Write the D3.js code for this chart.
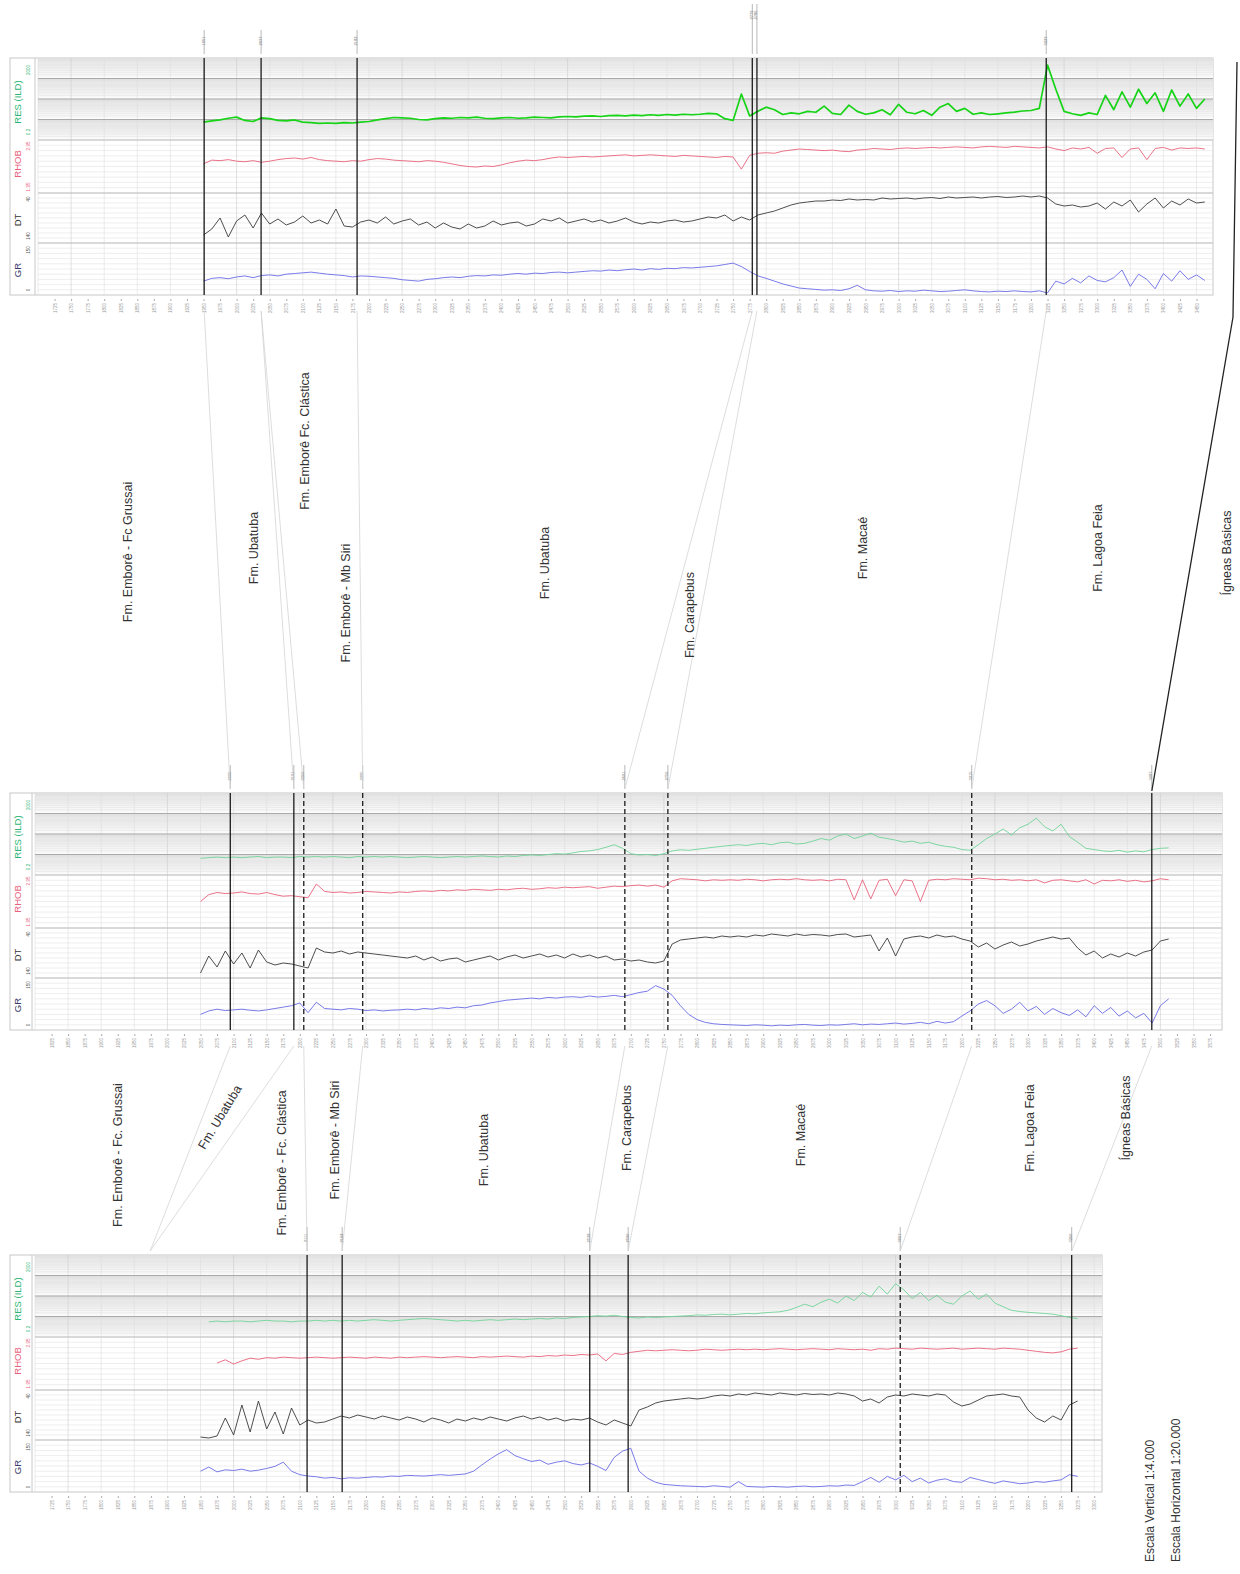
<!DOCTYPE html>
<html>
<head>
<meta charset="utf-8">
<script src="https://cdn.jsdelivr.net/npm/d3@7"></script>
<style>
body { margin: 0; background: #fff; font-family: "Liberation Sans", Arial, sans-serif; }
</style>
</head>
<body>
<svg id="chart" width="1240" height="1574"></svg>
<script>
// sampling of every log curve (m)
const STEP = 12.5;

// ---- well 1 (top panel)
const W1_START = 1950;
const W1_TOPS = [1951, 2037, 2182, 2779, 2786, 3223];
const W1_GR = [40,48,50,47,52, 55,50,56,58,55, 60,62,64,66,63, 60,58,56,52,55, 54,52,50,48,44, 42,40,45,47,50,
	52,50,54,56,55, 58,57,60,62,60, 63,62,65,66,64, 66,68,70,69,72, 70,73,75,72,76, 74,77,76,79,78,
	80,82,84,88,92, 82,68,55,48,40, 32,26,20,18,16, 14,15,13,18,28, 15,12,11,13,10, 12,11,14,12,10,
	11,13,15,12,10, 9,11,10,12,10, 9,12,6,40,32, 48,35,55,42,38, 50,72,25,60,45, 18,62,40,70,45, 58,42];
const W1_DT = [124,112,90,128,96, 84,110,80,102,92, 104,98,86,100,94, 102,72,106,108,98, 94,100,88,102,96, 92,104,98,110,100,
	108,112,102,110,106, 96,104,100,98,106, 102,92,96,90,100, 96,92,98,94,100, 96,90,98,102,98, 100,96,94,98,96,
	92,88,90,84,96, 88,94,84,80,76, 70,64,60,58,56, 56,54,55,52,54, 53,54,50,52,51, 50,52,50,49,51,
	48,50,49,48,50, 48,47,49,48,46, 48,46,50,62,66, 64,68,66,60,72, 58,66,54,78,62, 50,70,56,64,52, 60,58];
const W1_RHOB = [2.50,2.57,2.56,2.58,2.55, 2.54,2.56,2.53,2.55,2.58, 2.60,2.61,2.59,2.62,2.58, 2.56,2.55,2.54,2.56,2.55,
	2.58,2.60,2.59,2.57,2.56, 2.55,2.54,2.56,2.55,2.53, 2.50,2.47,2.45,2.44,2.46, 2.45,2.48,2.52,2.55,2.57,
	2.56,2.58,2.61,2.63,2.62, 2.63,2.64,2.63,2.64,2.65, 2.66,2.67,2.65,2.66,2.67, 2.66,2.65,2.64,2.66,2.65,
	2.64,2.63,2.62,2.64,2.63, 2.40,2.66,2.70,2.71,2.70, 2.74,2.76,2.78,2.77,2.76, 2.75,2.76,2.74,2.73,2.76,
	2.77,2.79,2.78,2.77,2.79, 2.80,2.79,2.80,2.81,2.80, 2.81,2.82,2.81,2.80,2.82, 2.83,2.82,2.81,2.83,2.82,
	2.81,2.80,2.82,2.78,2.75, 2.80,2.78,2.81,2.70,2.79, 2.80,2.62,2.78,2.80,2.58, 2.79,2.81,2.76,2.80,2.79, 2.80,2.78];
const W1_RES = [1.5,1.7,1.9,2.3,2.6, 1.8,1.6,2.4,2.2,1.8, 1.7,1.9,1.5,1.4,1.3, 1.35,1.3,1.4,1.35,1.5, 1.6,1.9,2.2,2.5,2.4,
	2.3,2.0,1.9,2.2,2.4, 2.3,2.5,2.4,2.6,2.3, 2.2,2.4,2.5,2.3,2.4, 2.6,2.5,2.4,2.7,2.8, 2.7,2.9,3.0,2.8,3.1,
	3.2,3.0,3.3,3.1,3.4, 3.2,3.5,3.3,3.6,3.4, 3.6,4.0,3.8,2.2,1.8, 35,3.0,5,8,6, 3.5,4.2,3.8,5,4.5,
	9,4,3.5,10,5, 3.6,4.2,6,3.4,11, 4.5,3.8,5.5,3.2,8, 12,5,7,3.6,4.2, 3.5,3.8,4.2,4.6,5.2,
	5.5,7,900,60,5, 3.8,3.2,4.2,3.5,30, 6,45,8,60,12, 40,5,55,9,35, 7,20];

// ---- well 2 (middle panel)
const W2_START = 2050;
const W2_TOPS = [2095, 2191, 2206, 2295, 2691, 2756, 3215, 3487];
const W2_GR = [45,55,60,56,58, 60,57,55,58,62, 66,70,78,50,80, 62,60,58,62,60, 56,58,55,57,58, 60,58,62,60,64,
	62,66,64,70,72, 78,82,86,88,90, 92,90,94,92,95, 96,94,98,95,97, 100,96,102,108,112, 128,118,100,70,45,
	30,22,18,16,15, 14,13,15,14,12, 14,13,15,16,14, 13,15,14,16,18, 15,17,16,18,20, 17,19,22,18,25,
	20,24,40,55,75, 85,70,48,60,80, 55,68,45,62,50, 42,58,38,70,48, 65,40,55,35,48, 20,70,90];
const W2_DT = [130,96,118,86,112, 90,120,84,108,114, 110,112,116,120,80, 88,90,86,92,88, 90,92,94,96,98, 100,96,104,98,106,
	102,100,108,104,100, 96,104,98,94,100, 96,92,98,94,100, 92,98,94,100,96, 104,102,106,104,108, 110,106,72,64,62,
	60,58,60,56,58, 56,58,54,56,52, 54,56,52,55,53, 54,56,53,52,58, 56,54,86,60,96, 62,58,56,60,54,
	58,56,62,66,78, 70,82,74,68,76, 72,66,62,58,62, 60,80,94,86,100, 92,98,90,96,88, 84,66,62];
const W2_RHOB = [2.45,2.58,2.62,2.60,2.61, 2.63,2.60,2.59,2.62,2.58, 2.55,2.56,2.54,2.52,2.78, 2.64,2.62,2.63,2.61,2.62,
	2.64,2.63,2.62,2.61,2.63, 2.62,2.64,2.65,2.64,2.66, 2.65,2.67,2.66,2.68,2.67, 2.66,2.68,2.67,2.69,2.70,
	2.68,2.69,2.71,2.70,2.72, 2.71,2.72,2.73,2.70,2.72, 2.74,2.73,2.75,2.76,2.74, 2.76,2.72,2.84,2.88,2.87,
	2.86,2.84,2.86,2.85,2.86, 2.85,2.87,2.86,2.84,2.86, 2.87,2.86,2.88,2.86,2.85, 2.86,2.84,2.87,2.86,2.48,
	2.86,2.50,2.85,2.87,2.56, 2.86,2.84,2.45,2.85,2.87, 2.86,2.88,2.87,2.86,2.89, 2.88,2.86,2.87,2.85,2.86,
	2.84,2.86,2.80,2.85,2.86, 2.84,2.82,2.86,2.78,2.85, 2.84,2.86,2.83,2.85,2.82, 2.84,2.88,2.86];
const W2_RES = [1.3,1.4,1.5,1.4,1.5, 1.4,1.5,1.6,1.4,1.5, 1.5,1.4,1.6,1.5,1.6, 1.5,1.6,1.5,1.4,1.6, 1.5,1.6,1.5,1.6,1.5,
	1.4,1.5,1.6,1.5,1.4, 1.5,1.6,1.5,1.6,1.7, 1.6,1.5,1.7,1.6,1.8, 1.9,1.8,2.0,2.2,2.1, 2.4,2.8,3.0,3.5,4.5,
	6,4,2.2,1.9,2.0, 1.8,2.2,3.0,3.4,3.2, 3.6,4.0,4.5,5,5.5, 6,5.5,6.5,7,6, 7.5,8,6.5,7,9,
	12,10,16,20,12, 16,22,14,12,10, 8,9,7,8,6, 5,4.5,3.5,3.2,6, 12,20,35,18,40,
	60,120,45,28,60, 15,8,4,3.5,3.0, 2.8,3.2,2.6,3.0,2.7, 3.5,4.0,4.2];

// ---- well 3 (bottom panel)
const W3_START = 1950;
const W3_TOPS = [2111, 2164, 2538, 2596, 3007, 3266];
const W3_GR = [60,72,58,64,62, 66,60,63,68,74, 86,60,50,46,44, 40,42,38,41,40, 42,44,43,46,45, 48,47,46,48,50,
	48,50,52,60,78, 95,110,122,105,96, 88,92,80,86,90, 82,78,84,74,62, 100,118,126,60,40, 28,22,20,18,17,
	16,15,18,16,14, 30,16,15,14,16, 15,14,16,17,15, 16,18,17,20,19, 30,42,28,45,35, 48,30,40,26,34,
	38,30,28,42,36, 30,25,32,28,24, 26,30,28,32,35, 50,45];
const W3_DT = [134,136,132,96,130, 70,124,62,118,84, 128,76,110,100,106, 104,98,92,96,90, 94,98,92,96,100, 94,98,104,96,100,
	106,98,102,96,100, 94,98,102,96,92, 98,94,100,96,102, 98,100,96,104,110, 100,106,112,80,74, 66,62,60,58,56,
	58,56,52,50,52, 48,50,46,48,50, 46,48,50,47,49, 48,50,46,48,52, 62,58,66,54,50, 52,48,50,52,48,
	50,64,72,68,60, 52,50,48,52,54, 80,96,104,92,100, 70,62];
const W3_RHOB = [null,null,2.46,2.52,2.44, 2.50,2.55,2.53,2.56,2.55, 2.57,2.56,2.55,2.56,2.57, 2.56,2.55,2.56,2.57,2.56,
	2.55,2.57,2.56,2.55,2.57, 2.56,2.57,2.58,2.57,2.56, 2.57,2.58,2.57,2.56,2.58, 2.57,2.58,2.59,2.58,2.57,
	2.59,2.58,2.60,2.59,2.61, 2.60,2.62,2.61,2.63,2.50, 2.64,2.62,2.66,2.68,2.70, 2.69,2.70,2.71,2.70,2.69,
	2.70,2.72,2.71,2.70,2.71, 2.72,2.71,2.72,2.71,2.72, 2.73,2.72,2.71,2.72,2.73, 2.72,2.71,2.73,2.72,2.71,
	2.72,2.70,2.73,2.72,2.74, 2.73,2.72,2.74,2.73,2.72, 2.73,2.74,2.72,2.73,2.74, 2.73,2.72,2.74,2.73,2.72,
	2.70,2.68,2.66,2.65,2.67, 2.72,2.74];
const W3_RES = [null,1.1,1.2,1.1,1.2, 1.2,1.1,1.2,1.3,1.2, 1.2,1.1,1.2,1.2,1.3, 1.2,1.3,1.2,1.3,1.2, 1.3,1.4,1.3,1.2,1.3,
	1.4,1.5,1.6,1.5,1.4, 1.3,1.2,1.3,1.2,1.3, 1.4,1.3,1.4,1.5,1.4, 1.5,1.6,1.5,1.7,1.6, 1.8,1.9,2.0,2.2,2.1,
	2.3,2.0,1.8,1.7,1.9, 1.8,1.9,2.0,2.1,2.2, 2.4,2.3,2.5,2.6,2.4, 2.6,2.8,2.7,3.0,3.2, 3.4,4.0,5.5,8,6,
	10,14,9,20,12, 30,18,60,25,80, 40,15,30,12,22, 10,8,20,35,14, 25,9,6,4,3.5, 3.2,3.0,2.8,2.6,2.2, 1.8,1.6];

// formation names between the panels
const UPPER_FORMATIONS = ['Fm. Emborê - Fc Grussai', 'Fm. Ubatuba', 'Fm. Emborê Fc. Clástica', 'Fm. Emborê - Mb Siri',
	'Fm. Ubatuba', 'Fm. Carapebus', 'Fm. Macaé', 'Fm. Lagoa Feia', 'Ígneas Básicas'];
const LOWER_FORMATIONS = ['Fm. Emborê - Fc. Grussai', 'Fm. Ubatuba', 'Fm. Emborê - Fc. Clástica', 'Fm. Emborê - Mb Siri',
	'Fm. Ubatuba', 'Fm. Carapebus', 'Fm. Macaé', 'Fm. Lagoa Feia', 'Ígneas Básicas'];
const SCALE_NOTES = ['Escala Vertical 1:4.000', 'Escala Horizontal 1:20.000'];

// ---------------- layout
const PX_PER_M = 0.662;
const H = 237;
const SCALES = {
	res: d3.scaleLog().domain([0.2, 2000]).range([82, 0]),
	rhob: d3.scaleLinear().domain([1.95, 2.95]).range([135, 82]),
	dt: d3.scaleLinear().domain([140, 40]).range([185, 135]),
	gr: d3.scaleLinear().domain([0, 150]).range([237, 185])
};
const CURVE_STYLE = {
	gr: { color: '#6b6be6', width: 0.9 },
	dt: { color: '#3a3a3a', width: 0.9 },
	rhob: { color: '#e8627c', width: 0.9 }
};

const wells = [
	{ top: 58, x0: 38, x1: 1213, d0: 1700, start: W1_START, tops: W1_TOPS,
		dashed: [0, 0, 0, 0, 0, 0], lift: [0, 0, 0, 26, 26, 0],
		gr: W1_GR, dt: W1_DT, rhob: W1_RHOB, res: W1_RES, resColor: '#17d417', resWidth: 1.7 },
	{ top: 793, x0: 35, x1: 1222, d0: 1800, start: W2_START, tops: W2_TOPS,
		dashed: [0, 0, 1, 1, 1, 1, 1, 0], lift: [0, 0, 0, 0, 0, 0, 0, 0],
		gr: W2_GR, dt: W2_DT, rhob: W2_RHOB, res: W2_RES, resColor: '#6fd497', resWidth: 0.9 },
	{ top: 1255, x0: 35, x1: 1102, d0: 1700, start: W3_START, tops: W3_TOPS,
		dashed: [0, 0, 0, 0, 1, 0], lift: [0, 0, 0, 0, 0, 0],
		gr: W3_GR, dt: W3_DT, rhob: W3_RHOB, res: W3_RES, resColor: '#6fd497', resWidth: 0.9 }
];

const svg = d3.select('#chart');
const defs = svg.append('defs');
const grad = defs.append('linearGradient').attr('id', 'band')
	.attr('x1', 0).attr('y1', 0).attr('x2', 0).attr('y2', 1);
grad.append('stop').attr('offset', '0%').attr('stop-color', '#dedede');
grad.append('stop').attr('offset', '40%').attr('stop-color', '#f1f1f1');
grad.append('stop').attr('offset', '100%').attr('stop-color', '#fbfbfb');

function rotText(g, x, y, txt, size, color, angle = -90, anchor = 'middle') {
	return g.append('text')
		.attr('transform', `translate(${x},${y}) rotate(${angle})`)
		.attr('text-anchor', anchor)
		.attr('dy', '0.35em')
		.attr('font-size', size)
		.attr('fill', color)
		.text(txt);
}

function drawWell(w) {
	const d1 = w.d0 + (w.x1 - w.x0) / PX_PER_M;
	const xs = d3.scaleLinear().domain([w.d0, d1]).range([w.x0, w.x1]);
	w.xs = xs;
	const g = svg.append('g').attr('transform', `translate(0,${w.top})`);

	g.append('rect').attr('x', 10).attr('y', 0).attr('width', w.x1 - 10).attr('height', H)
		.attr('fill', '#fff').attr('stroke', '#c8c8c8');

	// resistivity decade bands
	const res = SCALES.res;
	[[0.2, 2], [2, 20], [20, 200], [200, 2000]].forEach(([a, b]) => {
		g.append('rect').attr('x', w.x0).attr('width', w.x1 - w.x0)
			.attr('y', res(b)).attr('height', res(a) - res(b)).attr('fill', 'url(#band)');
	});
	const hl = g.append('g').attr('stroke', '#e3e3e3').attr('stroke-width', 0.6);
	res.ticks().forEach(v => hl.append('line').attr('x1', w.x0).attr('x2', w.x1).attr('y1', res(v)).attr('y2', res(v)));
	d3.range(1.95, 2.96, 0.1).forEach(v => hl.append('line').attr('x1', w.x0).attr('x2', w.x1)
		.attr('y1', SCALES.rhob(v)).attr('y2', SCALES.rhob(v)));
	d3.range(40, 141, 10).forEach(v => hl.append('line').attr('x1', w.x0).attr('x2', w.x1)
		.attr('y1', SCALES.dt(v)).attr('y2', SCALES.dt(v)));
	d3.range(0, 151, 15).forEach(v => hl.append('line').attr('x1', w.x0).attr('x2', w.x1)
		.attr('y1', SCALES.gr(v)).attr('y2', SCALES.gr(v)));

	// vertical depth grid
	const vg = g.append('g').attr('stroke', '#dedede').attr('stroke-width', 0.6);
	d3.range(Math.ceil(w.d0 / 50) * 50, d1, 50).forEach(d => {
		vg.append('line').attr('x1', xs(d)).attr('x2', xs(d)).attr('y1', 0).attr('y2', H)
			.attr('stroke', d % 250 === 0 ? '#cbcbcb' : null);
	});

	// decade and track lines
	[2, 20, 200].forEach(v => g.append('line').attr('x1', w.x0).attr('x2', w.x1)
		.attr('y1', res(v)).attr('y2', res(v)).attr('stroke', '#ababab').attr('stroke-width', 1));
	[res(0.2), SCALES.dt(40), SCALES.gr(150)].forEach(y => g.append('line')
		.attr('x1', w.x0).attr('x2', w.x1).attr('y1', y).attr('y2', y)
		.attr('stroke', '#b8b8b8').attr('stroke-width', 0.8));
	g.append('line').attr('x1', w.x0 - 3).attr('x2', w.x0 - 3).attr('y1', 0).attr('y2', H)
		.attr('stroke', '#c8c8c8');

	// curve labels column
	rotText(g, 18, 44, 'RES (ILD)', 9.5, '#2bb673');
	rotText(g, 28, 12, '2000', 4.5, '#2bb673');
	rotText(g, 28, 74, '0.2', 4.5, '#2bb673');
	rotText(g, 18, 106, 'RHOB', 9.5, '#e8627c');
	rotText(g, 28, 88, '2.95', 4.5, '#e8627c');
	rotText(g, 28, 129, '1.95', 4.5, '#e8627c');
	rotText(g, 18, 162, 'DT', 9.5, '#333');
	rotText(g, 28, 141, '40', 4.5, '#555');
	rotText(g, 28, 178, '140', 4.5, '#555');
	rotText(g, 18, 212, 'GR', 9.5, '#3a3a6a');
	rotText(g, 28, 192, '150', 4.5, '#555');
	rotText(g, 28, 232, '0', 4.5, '#555');

	// curves
	const depth = i => w.start + i * STEP;
	['gr', 'dt', 'rhob', 'res'].forEach(k => {
		const line = d3.line()
			.defined(v => v != null)
			.x((v, i) => xs(depth(i)))
			.y(v => SCALES[k](v));
		const st = k === 'res' ? { color: w.resColor, width: w.resWidth } : CURVE_STYLE[k];
		g.append('path').datum(w[k]).attr('d', line)
			.attr('fill', 'none').attr('stroke', st.color).attr('stroke-width', st.width)
			.attr('stroke-linejoin', 'round');
	});

	// formation tops
	w.tops.forEach((d, i) => {
		g.append('line').attr('x1', xs(d)).attr('x2', xs(d)).attr('y1', 0).attr('y2', H)
			.attr('stroke', '#1b1b1b').attr('stroke-width', 1.3)
			.attr('stroke-dasharray', w.dashed[i] ? '5,3' : null);
		const lift = w.lift[i];
		g.append('line').attr('x1', xs(d)).attr('x2', xs(d)).attr('y1', -28 - lift).attr('y2', -4)
			.attr('stroke', '#888').attr('stroke-width', 0.6);
		rotText(g, xs(d) - 1, -17 - lift, String(d), 4, '#777');
	});

	// depth axis
	const axis = d3.axisBottom(xs)
		.tickValues(d3.range(Math.ceil(w.d0 / 25) * 25 + 25, d1, 25))
		.tickSize(2)
		.tickFormat(d3.format('d'));
	const ga = g.append('g').attr('transform', `translate(0,${H + 4})`).call(axis);
	ga.select('.domain').remove();
	ga.selectAll('line').attr('stroke', '#aaa');
	ga.selectAll('text')
		.attr('font-size', 4.5).attr('fill', '#999')
		.attr('transform', 'rotate(-90)')
		.attr('x', -4).attr('y', 0).attr('dy', '0.35em')
		.attr('text-anchor', 'end');
}

wells.forEach(drawWell);

// ---- correlation lines
const [w1, w2, w3] = wells;
const corr = svg.append('g').attr('stroke', '#d4d4d4').attr('stroke-width', 0.8).attr('fill', 'none');
const LINKS_12 = [[0, 0], [1, 1], [1, 2], [2, 3], [3, 4], [4, 5], [5, 6]];
LINKS_12.forEach(([a, b]) => corr.append('line')
	.attr('x1', w1.xs(w1.tops[a])).attr('y1', w1.top + H + 16)
	.attr('x2', w2.xs(w2.tops[b])).attr('y2', w2.top - 4));
const LINKS_23 = [[2, 0], [3, 1], [4, 2], [5, 3], [6, 4], [7, 5]];
LINKS_23.forEach(([a, b]) => corr.append('line')
	.attr('x1', w2.xs(w2.tops[a])).attr('y1', w2.top + H + 16)
	.attr('x2', w3.xs(w3.tops[b])).attr('y2', w3.top - 4));
// Ubatuba pinch-out toward well 3
const PINCH_W3 = 1874;
[0, 1].forEach(a => corr.append('line')
	.attr('x1', w2.xs(w2.tops[a])).attr('y1', w2.top + H + 16)
	.attr('x2', w3.xs(PINCH_W3)).attr('y2', w3.top - 4));

// basement line (bold)
svg.append('path')
	.attr('d', d3.line()([
		[w1.x1 + 24, w1.top + 4],
		[w1.x1 + 20, w1.top + H + 22],
		[w2.xs(w2.tops[7]), w2.top - 2]
	]))
	.attr('fill', 'none').attr('stroke', '#222').attr('stroke-width', 1.3);

// ---- formation labels
const labels = svg.append('g').attr('font-family', '"Liberation Sans", Arial, sans-serif');
const UPPER_POS = [[1836, 552], [2025, 548], [2103, 441], [2164, 603], [2466, 563], [2685, 615], [2945, 548], [3301, 548], [3495, 553]];
UPPER_FORMATIONS.forEach((t, i) => rotText(labels, w1.xs(UPPER_POS[i][0]), UPPER_POS[i][1], t, 12.5, '#333'));
const LOWER_POS = [[1925, 1155, -90], [2079, 1117, -59], [2172, 1163, -90], [2252, 1140, -90], [2478, 1150, -90],
	[2694, 1128, -90], [2956, 1135, -90], [3303, 1128, -90], [3447, 1118, -90]];
LOWER_FORMATIONS.forEach((t, i) => rotText(labels, w2.xs(LOWER_POS[i][0]), LOWER_POS[i][1], t, 12.5, '#333', LOWER_POS[i][2]));

// ---- scale notes
SCALE_NOTES.forEach((t, i) => rotText(svg, 1150 + i * 26, 1562, t, 12, '#333', -90, 'start'));
</script>
</body>
</html>
